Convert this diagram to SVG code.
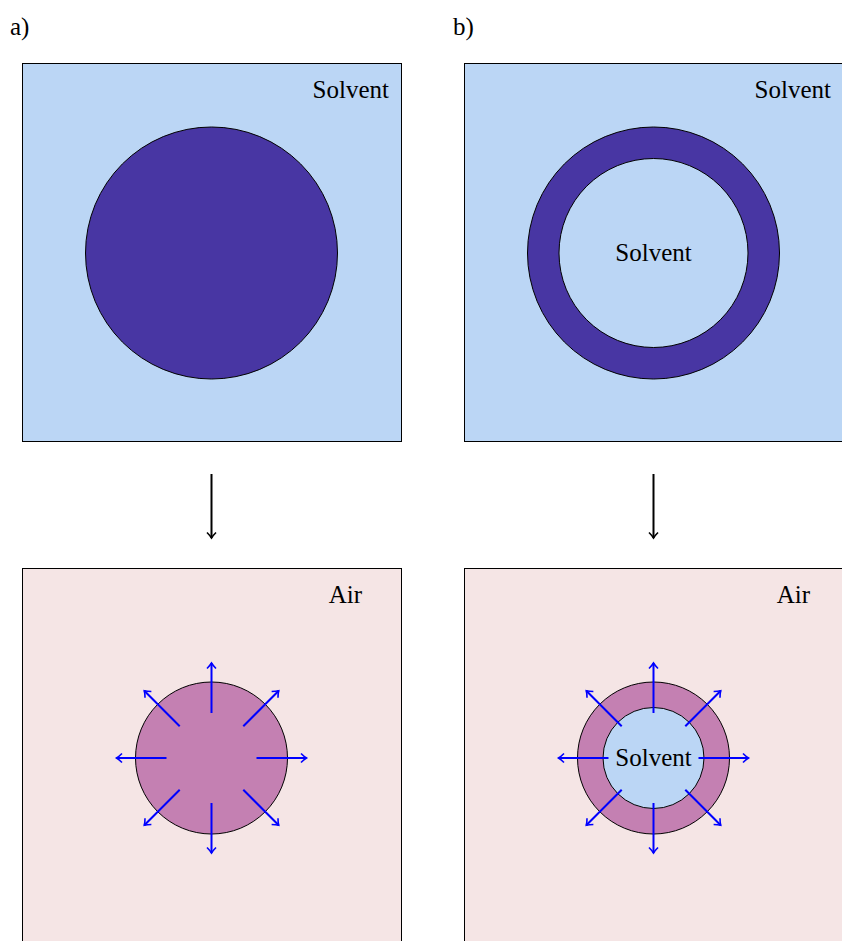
<svg xmlns="http://www.w3.org/2000/svg" width="842" height="941" viewBox="0 0 842 941">
<defs>
<style>
.t{font-family:"Liberation Serif","DejaVu Serif",serif;font-size:25px;fill:#000}
.sol{fill:#BBD6F5;stroke:#000;stroke-width:1}
.air{fill:#F5E5E5;stroke:#000;stroke-width:1}
.dark{fill:#4836A3;stroke:#000;stroke-width:1}
.mauve{fill:#C480B2;stroke:#000;stroke-width:1}
.ba{stroke:#0000FF;stroke-width:2;fill:none;marker-end:url(#bh)}
.ka{stroke:#000;stroke-width:2;fill:none;marker-end:url(#kh)}
</style>
<marker id="bh" markerWidth="10" markerHeight="12" refX="7" refY="6" orient="auto" markerUnits="userSpaceOnUse">
<path d="M1.5,1.5 Q4.5,4.5 7,6 Q4.5,7.5 1.5,10.5" fill="none" stroke="#0000FF" stroke-width="1.6"/>
</marker>
<marker id="kh" markerWidth="10" markerHeight="12" refX="7" refY="6" orient="auto" markerUnits="userSpaceOnUse">
<path d="M1.5,1.5 Q4.5,4.5 7,6 Q4.5,7.5 1.5,10.5" fill="none" stroke="#000" stroke-width="1.6"/>
</marker>
</defs>
<rect width="842" height="941" fill="#fff"/>
<g id="label-a"><text class="t" x="10" y="35">a)</text></g>
<g id="label-b"><text class="t" x="453" y="35">b)</text></g>
<g id="panel-a-top">
<rect class="sol" x="22.5" y="63.5" width="379" height="378"/>
<text class="t" x="389" y="98" text-anchor="end">Solvent</text>
<circle class="dark" cx="211.5" cy="253" r="126"/>
</g>
<g id="panel-b-top">
<rect class="sol" x="464.5" y="63.5" width="400" height="378"/>
<text class="t" x="831" y="98" text-anchor="end">Solvent</text>
<circle class="dark" cx="653.5" cy="253" r="126"/>
<circle class="sol" cx="653.5" cy="253" r="94.5"/>
<text class="t" x="653.5" y="261" text-anchor="middle">Solvent</text>
</g>
<g id="panel-a-bottom">
<rect class="air" x="22.5" y="568.5" width="379" height="400"/>
<text class="t" x="362" y="603" text-anchor="end">Air</text>
<circle class="mauve" cx="211.5" cy="758" r="76"/>
</g>
<g id="panel-b-bottom">
<rect class="air" x="464.5" y="568.5" width="400" height="400"/>
<text class="t" x="810" y="603" text-anchor="end">Air</text>
<circle class="mauve" cx="653.5" cy="758" r="76"/>
<circle class="sol" cx="653.5" cy="758" r="50.5"/>
<text class="t" x="653.5" y="766" text-anchor="middle">Solvent</text>
</g>
<g id="connectors">
<line class="ka" x1="211.5" y1="474" x2="211.5" y2="538"/>
<line class="ka" x1="653.5" y1="474" x2="653.5" y2="538"/>
<g transform="translate(211.5,758)">
<line class="ba" x1="0" y1="-45" x2="0" y2="-95"/>
<line class="ba" x1="0" y1="45" x2="0" y2="95"/>
<line class="ba" x1="45" y1="0" x2="95" y2="0"/>
<line class="ba" x1="-45" y1="0" x2="-95" y2="0"/>
<line class="ba" x1="31.8" y1="-31.8" x2="67.2" y2="-67.2"/>
<line class="ba" x1="-31.8" y1="-31.8" x2="-67.2" y2="-67.2"/>
<line class="ba" x1="31.8" y1="31.8" x2="67.2" y2="67.2"/>
<line class="ba" x1="-31.8" y1="31.8" x2="-67.2" y2="67.2"/>
</g>
<g transform="translate(653.5,758)">
<line class="ba" x1="0" y1="-45" x2="0" y2="-95"/>
<line class="ba" x1="0" y1="45" x2="0" y2="95"/>
<line class="ba" x1="45" y1="0" x2="95" y2="0"/>
<line class="ba" x1="-45" y1="0" x2="-95" y2="0"/>
<line class="ba" x1="31.8" y1="-31.8" x2="67.2" y2="-67.2"/>
<line class="ba" x1="-31.8" y1="-31.8" x2="-67.2" y2="-67.2"/>
<line class="ba" x1="31.8" y1="31.8" x2="67.2" y2="67.2"/>
<line class="ba" x1="-31.8" y1="31.8" x2="-67.2" y2="67.2"/>
</g>
</g>
</svg>
